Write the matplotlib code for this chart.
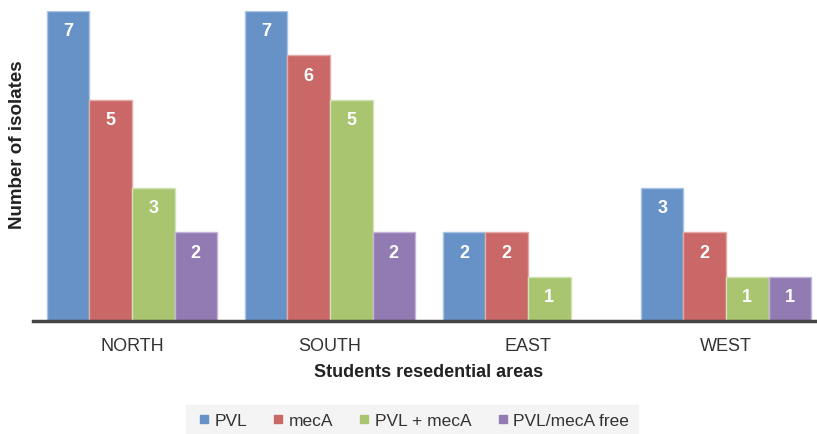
import numpy as np
import matplotlib.pyplot as plt
from matplotlib.lines import Line2D

plt.rcParams['font.family'] = ['Liberation Sans', 'DejaVu Sans']

areas = ['NORTH', 'SOUTH', 'EAST', 'WEST']
series = ['PVL', 'mecA', 'PVL + mecA', 'PVL/mecA free']
pvl = [7, 7, 2, 3]
meca = [5, 6, 2, 2]
pvl_meca = [3, 5, 1, 1]
free = [2, 2, 0, 1]
colors = ['#6792c7', '#c96866', '#a9c570', '#917bb2']
edges = ['#a9c3e3', '#e3aaa8', '#d2e2b4', '#c3b6d8']

values = [pvl, meca, pvl_meca, free]

fig = plt.figure(figsize=(8.17, 4.34), dpi=100)
ax = fig.add_axes([33 / 817, 1 - 321 / 434, 792 / 817, 310 / 434])

x = np.arange(len(areas))
w = 0.215
for i, (vals, c, ec) in enumerate(zip(values, colors, edges)):
    pos = x + (i - 1.5) * w
    v = np.array(vals, dtype=float)
    bars = ax.bar(pos, v, w, color=c, edgecolor=ec, linewidth=1.0, zorder=2)
    for b, val in zip(bars, vals):
        if val > 0:
            ax.text(b.get_x() + b.get_width() / 2, val - 0.47, str(val),
                    ha='center', va='center', color='white',
                    fontsize=13, fontweight='bold', zorder=3)

ax.set_xlim(-0.5, 3.5)
ax.set_ylim(0, 7)
ax.set_xticks(x)
ax.set_xticklabels(areas, fontsize=13, color='#333333')
ax.tick_params(axis='x', length=0, pad=12)
ax.set_yticks([])
for s in ['top', 'right', 'left']:
    ax.spines[s].set_visible(False)
ax.spines['bottom'].set_color('#444444')
ax.spines['bottom'].set_linewidth(2.5)
ax.spines['bottom'].set_zorder(4)

ax.set_xlabel('Students resedential areas', fontsize=13, fontweight='bold',
              color='#222222', labelpad=7)
fig.text(18 / 817, 1 - 145 / 434, 'Number of isolates', rotation=90,
         ha='center', va='center', fontsize=13.5, fontweight='bold', color='#222222')

handles = [Line2D([], [], marker='s', linestyle='none', markersize=6,
                  markerfacecolor=c, markeredgecolor=c) for c in colors]
leg = fig.legend(handles, series, loc='center', bbox_to_anchor=(412 / 817, 1 - 421 / 434),
                 ncol=4, frameon=True, fontsize=12.5, handletextpad=0.1,
                 columnspacing=1.3, borderpad=0.5, handlelength=1.0)
leg.get_frame().set_facecolor('#f2f2f2')
leg.get_frame().set_edgecolor('#f2f2f2')
leg.get_frame().set_boxstyle('square', pad=0)
for t in leg.get_texts():
    t.set_color('#333333')

fig.savefig('out.png', dpi=100)
